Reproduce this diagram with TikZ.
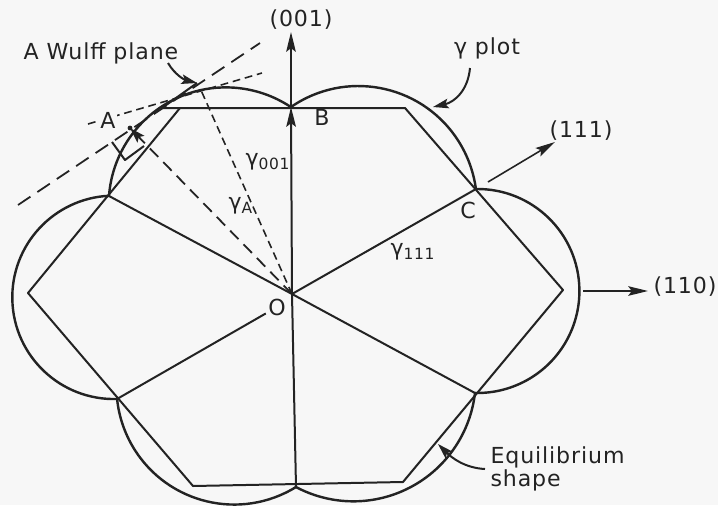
\documentclass[tikz,border=0pt]{standalone}
\usepackage{xcolor}
\definecolor{paper}{RGB}{247,247,247}
\definecolor{ink}{RGB}{35,35,35}
\usepackage{fontspec}
\setmainfont{DejaVu Sans}[LetterSpace=4]
\usepackage{tikz}
\usetikzlibrary{arrows.meta}

\tikzset{
  lobe/.style={ink, line width=1.15pt},
  gline/.style={ink, line width=0.95pt},
  dirtip/.style={-{Stealth[length=3.3mm,width=1.6mm,inset=0.6mm]}},
  pointtip/.style={-{Stealth[length=2.6mm,width=1.6mm,inset=0.5mm]}},
  wulffline/.style={ink, line width=0.85pt, dash pattern=on 2.5mm off 1.4mm},
  raddash/.style={ink, line width=0.85pt, dash pattern=on 2mm off 1.2mm},
  finedash/.style={ink, line width=0.75pt, dash pattern=on 1.3mm off 0.8mm},
  lbl/.style={ink, inner sep=1pt, font=\fontsize{10.5}{12}\selectfont},
}

\begin{document}
\begin{tikzpicture}[x=0.1671mm, y=-0.1671mm, line join=round]
  \fill[paper] (0,0) rectangle (718,505);
  \useasboundingbox (0,0) rectangle (718,505);

  % centre, cusps of the gamma plot and the point A
  \coordinate (O) at (292,294);
  \coordinate (B) at (291,107);
  \coordinate (C) at (476,189);
  \coordinate (Cr) at (475,393);
  \coordinate (Cb) at (296,487);
  \coordinate (Cl) at (117,399);
  \coordinate (Cu) at (109,196);
  \coordinate (A) at (130,128);

  % gamma plot
  \draw[lobe] (Cu) arc[start angle=184.2, end angle=303.7, radius=117.2];
  \draw[lobe] (B) arc[start angle=235.4, end angle=352.4, radius=118.6];
  \draw[lobe] (C) arc[start angle=-90.8, end angle=91.4, radius=102];
  \draw[lobe] (Cr) arc[start angle=6.6, end angle=118, radius=122.4];
  \draw[lobe] (Cb) arc[start angle=58.3, end angle=174.1, radius=117.7];
  \draw[lobe] (Cl) arc[start angle=88.3, end angle=267.2, radius=101.7];

  % equilibrium shape
  \draw[gline] (180,108) -- (405,108) -- (563,290) -- (403,482)
    -- (193,486) -- (28,293) -- cycle;
  \draw[gline] (180,108) -- (162,108) -- (197,83);

  % labels
  \node[lbl] (n001) at (301,20) {(001)};
  \node[lbl] (n111) at (581,131) {(111)};
  \node[lbl] (n110) at (685,287) {(110)};
  \node[lbl, anchor=west] (nwulff) at (21,53) {A Wulff plane};
  \node[lbl] (nplot) at (487,48) {γ plot};
  \node[lbl] (nB) at (322,117) {B};
  \node[lbl] (nC) at (468,210) {C};
  \node[lbl] (nO) at (277,307) {O};
  \node[lbl] (ng001) at (268,162) {γ\textsubscript{001}};
  \node[lbl] (ngA) at (241,206) {γ\textsubscript{A}};
  \node[lbl] (ng111) at (413,252) {γ\textsubscript{111}};
  \node[lbl, anchor=north west, align=left,
    font=\fontsize{10.5}{9.5}\selectfont] (neq) at (488,444) {Equilibrium\\shape};

  % radius vectors
  \draw[gline] (O) -- (Cu);
  \draw[gline] (O) -- (C);
  \draw[gline] (O) -- (Cr);
  \draw[gline] (O) -- (Cb);
  \draw[gline] (nO) -- (Cl);
  \draw[gline, dirtip] (O) -- (B);

  % crystal directions
  \coordinate (e001) at (291,32);
  \coordinate (s111) at (488,182);
  \coordinate (e111) at (555,142);
  \coordinate (s110) at (583,291);
  \coordinate (e110) at (648,291);
  \draw[gline, dirtip] (B) -- (e001);
  \draw[gline, line width=0.75pt, dirtip] (s111) -- (e111);
  \draw[gline, line width=0.75pt, dirtip] (s110) -- (e110);

  % Wulff planes and the radius to A
  \coordinate (w1) at (18,205);
  \coordinate (w2) at (260,43);
  \coordinate (t1) at (88,124);
  \coordinate (t2) at (262,73);
  \coordinate (R) at (200,88);
  \draw[wulffline] (w1) -- (w2);
  \draw[finedash] (t1) -- (t2);
  \draw[finedash] (O) -- (R);
  \draw[raddash, pointtip] (O) -- (A);
  \fill[ink] (A) circle[radius=2.4];
  \draw[gline] (112,142) -- (125,160) -- (144,146);
  \node[lbl, fill=paper, inner sep=0.5pt] (nA) at (108,120) {A};

  % pointers
  \coordinate (pw) at (168,63);
  \coordinate (pwt) at (197,83);
  \coordinate (pp) at (470,68);
  \coordinate (ppt) at (433,107);
  \coordinate (pe) at (485,469);
  \coordinate (pet) at (438,444);
  \draw[gline, pointtip] (pw) .. controls (175,75) and (185,80) .. (pwt);
  \draw[gline, pointtip] (pp) .. controls (468,90) and (455,102) .. (ppt);
  \draw[gline, pointtip] (pe) .. controls (465,468) and (452,458) .. (pet);
\end{tikzpicture}
\end{document}
